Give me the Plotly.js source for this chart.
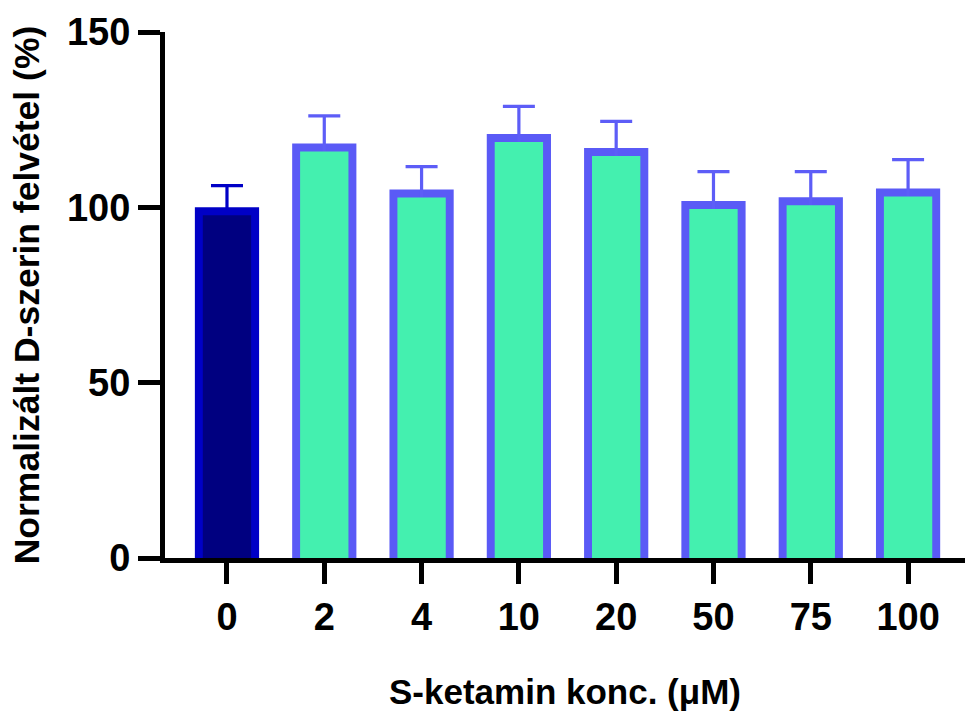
<!DOCTYPE html>
<html>
<head>
<meta charset="utf-8">
<script src="https://cdn.plot.ly/plotly-3.0.1.min.js"></script>
<style>html,body{margin:0;padding:0;background:#fff;}#chart{width:965px;height:716px;}</style>
</head>
<body>
<div id="chart"></div>
<script>
// Data
const categories = ["0", "2", "4", "10", "20", "50", "75", "100"];
const meanValues = [100, 118.2, 105.1, 120.9, 116.9, 101.8, 102.9, 105.4];
const errorPlus = [6.2, 7.9, 6.5, 7.9, 7.6, 8.4, 7.3, 8.2];
const yTickValues = [0, 50, 100, 150];
const xTitle = "S-ketamin konc. (\u03BCM)";
const yTitle = "Normalizált D-szerin felvétel (%)";

const FONT = "Liberation Sans, Arial, sans-serif";
const Y_RANGE = [0, 150];
// inner fill is drawn on an invisible overlaid axis shifted by the border thickness,
// so the border sits inside the bar (as in the original graphing software);
// the lower half of each (symmetric) error bar is hidden behind that inner fill.
const BORDER_UNITS = 2.28;
const OUTER_W = 0.66, INNER_W = 0.497;

const ctrlCats = categories.slice(0, 1), ctrlVals = meanValues.slice(0, 1), ctrlErr = errorPlus.slice(0, 1);
const trtCats = categories.slice(1), trtVals = meanValues.slice(1), trtErr = errorPlus.slice(1);

const traces = [
  { type: "bar", x: ctrlCats, y: ctrlVals, width: OUTER_W,
    marker: { color: "#0000c6", line: { width: 0 } },
    error_y: { type: "data", symmetric: true, array: ctrlErr,
               color: "#0000c6", thickness: 3.2, width: 16 } },
  { type: "bar", x: trtCats, y: trtVals, width: OUTER_W,
    marker: { color: "#5a5af6", line: { width: 0 } },
    error_y: { type: "data", symmetric: true, array: trtErr,
               color: "#5d5df7", thickness: 3.2, width: 16 } },
  { type: "bar", x: ctrlCats, y: ctrlVals, width: INNER_W, yaxis: "y2",
    marker: { color: "#000080", line: { width: 0 } } },
  { type: "bar", x: trtCats, y: trtVals, width: INNER_W, yaxis: "y2",
    marker: { color: "#44f0af", line: { width: 0 } } }
];

const layout = {
  width: 965, height: 716,
  margin: { l: 165, r: 0, t: 32, b: 158 },
  paper_bgcolor: "#fff", plot_bgcolor: "#fff",
  showlegend: false,
  barmode: "overlay",
  font: { family: FONT, color: "#000", weight: "bold" },
  xaxis: {
    type: "category",
    categoryorder: "array", categoryarray: categories,
    range: [-0.637, 7.585],
    showgrid: false, zeroline: false,
    showline: true, linecolor: "#000", linewidth: 5,
    ticks: "outside", ticklen: 21, tickwidth: 5, tickcolor: "#000",
    tickfont: { family: FONT, size: 38, color: "#000", weight: "bold" },
    title: { text: xTitle, font: { family: FONT, size: 35, color: "#000", weight: "bold" }, standoff: 44 }
  },
  yaxis: {
    range: Y_RANGE,
    tickvals: yTickValues,
    showgrid: false, zeroline: false,
    showline: true, linecolor: "#000", linewidth: 5,
    ticks: "outside", ticklen: 22, tickwidth: 5, tickcolor: "#000",
    tickfont: { family: FONT, size: 38, color: "#000", weight: "bold" },
    title: { text: yTitle, font: { family: FONT, size: 35.5, color: "#000", weight: "bold" }, standoff: 18 }
  },
  yaxis2: {
    overlaying: "y",
    range: [Y_RANGE[0] + BORDER_UNITS, Y_RANGE[1] + BORDER_UNITS],
    visible: false, showgrid: false, zeroline: false
  }
};

Plotly.newPlot("chart", traces, layout, { displayModeBar: false, staticPlot: true });
</script>
</body>
</html>
